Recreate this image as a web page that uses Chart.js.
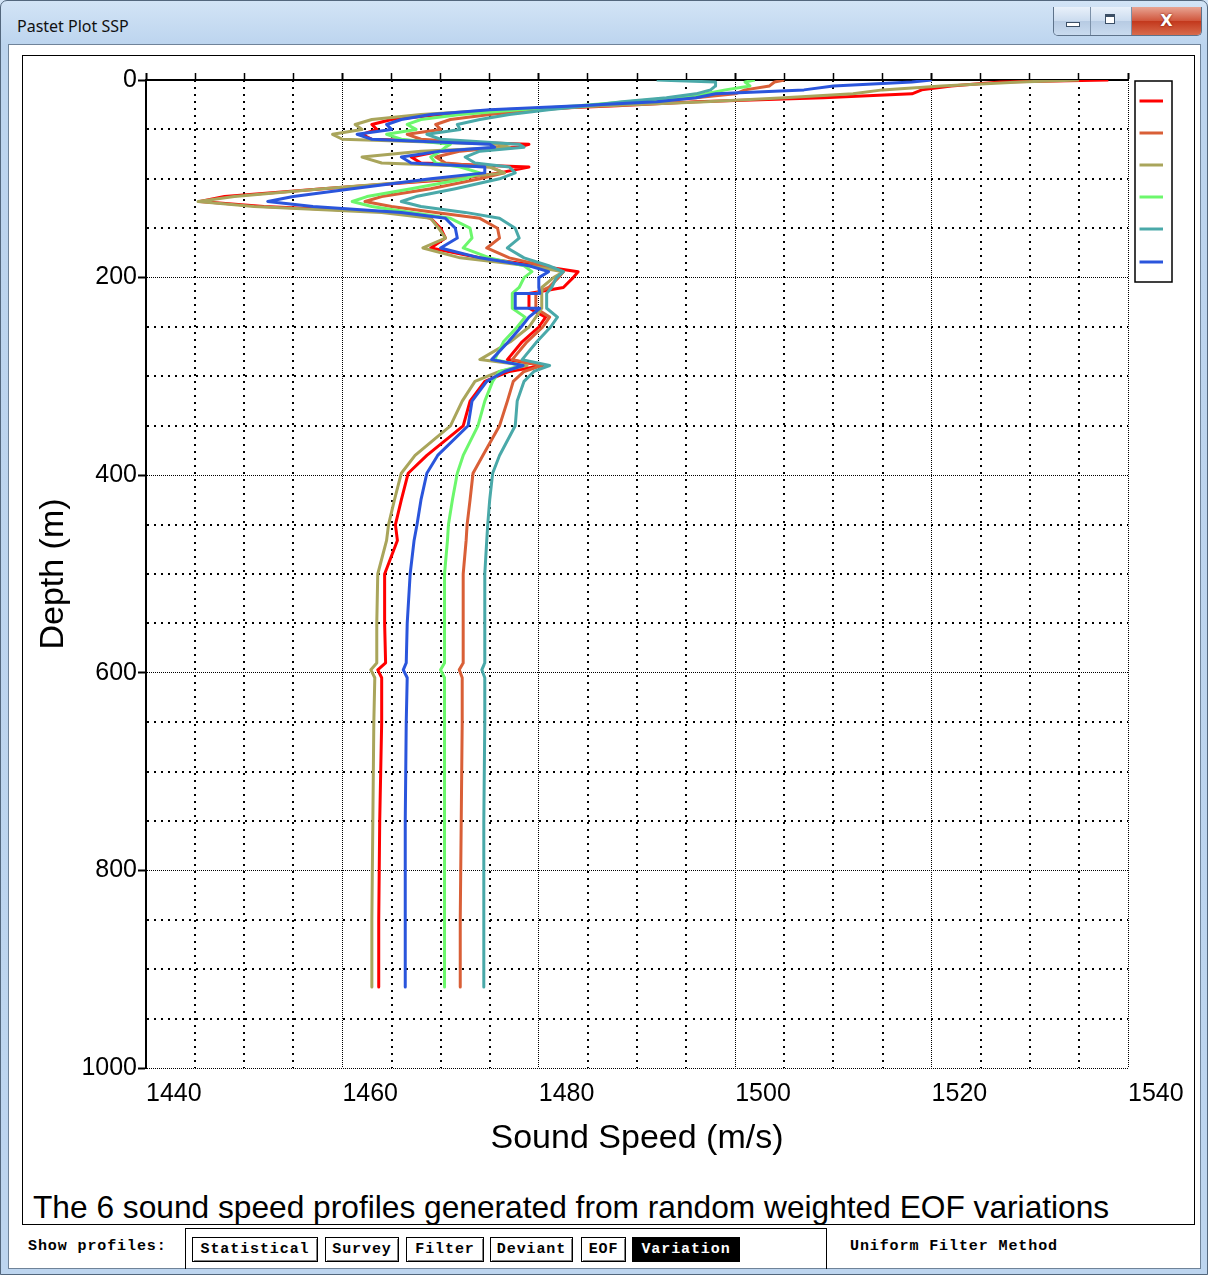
<!DOCTYPE html>
<html>
<head>
<meta charset="utf-8">
<title>Pastet Plot SSP</title>
<script src="https://cdn.jsdelivr.net/npm/chart.js@4.4.1/dist/chart.umd.min.js"></script>
<style>
  body { margin: 0; width: 1208px; height: 1275px; overflow: hidden; position: relative;
         background: linear-gradient(#d3e4f6, #bcd4ee 46px, #bdd5ef); font-family: "Liberation Sans", Arial, sans-serif; }
  #edge { position: absolute; left: 0; top: 0; width: 1206px; height: 1273px; border: 1px solid #53677d; border-radius: 7px 7px 0 0; }
  #wtitle { position: absolute; left: 17px; top: 15px; font: 16px "Noto Sans", "Open Sans", sans-serif; color: #111; }
  #btns { position: absolute; left: 1053px; top: 7px; width: 147px; height: 28px; border: 1px solid #5d728a; border-top: none;
          border-radius: 0 0 5px 5px; overflow: hidden; display: flex; }
  #btns div { height: 28px; border-right: 1px solid #7b90a8; background: linear-gradient(#e9f1fa, #cbdcef 50%, #b7cbe3 51%, #c9dbef); position: relative; }
  #btns .cls { background: linear-gradient(#e8a493, #d0553b 50%, #c3381c 51%, #d86b4c); border-right: none; color: #fff;
               font: bold 16px "DejaVu Sans", sans-serif; text-align: center; line-height: 27px; text-shadow: 0 0 2px #600; }
  #client { position: absolute; left: 8px; top: 44px; width: 1191px; height: 1223px; background: #fff; border: 1px solid #6f8399; }
  #panel { position: absolute; left: 22px; top: 55px; width: 1171px; height: 1168px; border: 1.5px solid #000; }
  #caption { position: absolute; left: 33px; top: 1188px; font-size: 31.7px; line-height: 38px; color: #000; white-space: nowrap; }
  .mono { font-family: "Liberation Mono", "DejaVu Sans Mono", monospace; font-weight: bold; font-size: 15px; letter-spacing: 0.9px; color: #000; }
  #show { position: absolute; left: 28px; top: 1238px; }
  #bar { position: absolute; left: 185px; top: 1228px; width: 640px; height: 40px; border: 1px solid #000; border-bottom: none; }
  .b { position: absolute; top: 8px; height: 23px; line-height: 23px; border: 1px solid #000; box-shadow: inset 1px 1px 0 #fff, inset -1px -1px 0 #808080;
       text-align: center; background: #fff; }
  .b.on { background: #000; color: #fff; box-shadow: none; }
  #method { position: absolute; left: 850px; top: 1238px; }
  #plot { position: absolute; left: 0; top: 0; }
</style>
</head>
<body>
<div id="edge"></div>
<div id="wtitle">Pastet Plot SSP</div>
<div id="btns">
  <div style="width:36px"><span style="position:absolute;left:12px;top:15px;width:12px;height:3px;background:#fff;border:1px solid #3b4f66"></span></div>
  <div style="width:40px"><span style="position:absolute;left:14px;top:7px;width:8px;height:8px;border:1px solid #3b4f66;box-shadow:inset 0 2px 0 #3b4f66;background:#fff"></span></div>
  <div class="cls" style="width:69px">X</div>
</div>
<div id="client"></div>
<div id="panel"></div>
<div id="caption">The 6 sound speed profiles generated from random weighted EOF variations</div>
<div id="show" class="mono">Show profiles:</div>
<div id="bar" class="mono">
  <div class="b" style="left:6px;width:124px">Statistical</div>
  <div class="b" style="left:139px;width:72px">Survey</div>
  <div class="b" style="left:220px;width:76px">Filter</div>
  <div class="b" style="left:304px;width:81px">Deviant</div>
  <div class="b" style="left:395px;width:43px">EOF</div>
  <div class="b on" style="left:446px;width:106px">Variation</div>
</div>
<div id="method" class="mono">Uniform Filter Method</div>
<canvas id="plot" width="1208" height="1275"></canvas>

<script>
// depth (m) shared by all six profiles; 216 and 231 are repeated for the step box
const depths = [0, 2, 6, 10, 14, 18, 22, 26, 30, 35,
  40, 45, 50, 55, 60, 65, 68, 72, 78, 84,
  88, 94, 100, 110, 118, 123, 128, 134, 140, 150,
  160, 170, 180, 188, 194, 200, 210, 216, 216, 231,
  231, 240, 250, 265, 283, 289, 295, 305, 325, 350,
  380, 398, 425, 450, 466, 500, 550, 590, 597, 605,
  650, 750, 850, 918];

// sound speed (m/s) of each profile at those depths
const redSpeed = [1538, 1527, 1522, 1519, 1518, 1509, 1496, 1488, 1478, 1470,
  1465, 1463, 1463.5, 1462, 1463, 1479, 1478, 1470, 1467, 1468,
  1479, 1476, 1472, 1458, 1448, 1445.5, 1452, 1466, 1469, 1470,
  1470.5, 1469, 1474, 1480, 1484, 1483.5, 1482.5, 1479, 1479, 1479,
  1479, 1480.7, 1480, 1478.3, 1476.8, 1480.4, 1477, 1474.5, 1473, 1472.3,
  1468.6, 1466.7, 1466, 1465.4, 1465.6, 1464.3, 1464.3, 1464.4, 1463.6, 1464,
  1464, 1463.8, 1463.7, 1463.7];
const orangeSpeed = [1505, 1504, 1503.5, 1501, 1500, 1496, 1491, 1486, 1480, 1475,
  1471, 1469.5, 1470, 1466.6, 1468, 1476, 1476, 1472, 1469.5, 1470.5,
  1475, 1476.5, 1474, 1469, 1464, 1462.3, 1465, 1469.5, 1474, 1475.8,
  1476, 1474.7, 1477, 1480.5, 1482.5, 1482, 1481, 1479.7, 1479.7, 1479.7,
  1479.7, 1481.1, 1480.4, 1478.8, 1477.3, 1480.3, 1478.5, 1477.4, 1476.8, 1476,
  1474.3, 1473.3, 1473, 1472.7, 1472.6, 1472.3, 1472.3, 1472.3, 1471.9, 1472.2,
  1472.2, 1472.1, 1472, 1472];
const oliveSpeed = [1535, 1529, 1521, 1515, 1512, 1505, 1497, 1487, 1476, 1468,
  1463, 1461.3, 1462, 1459, 1460, 1476, 1477, 1468, 1462, 1464,
  1475, 1476.5, 1471, 1458, 1449, 1445.3, 1451, 1464, 1469, 1469.8,
  1470.5, 1468.2, 1472, 1479, 1482.5, 1481.5, 1480.3, 1480.3, 1480.3, 1480.3,
  1480.3, 1479.7, 1479, 1477.1, 1474, 1478.8, 1476, 1473.5, 1472.2, 1471,
  1467.4, 1466, 1465.3, 1464.7, 1464.5, 1463.6, 1463.5, 1463.5, 1462.9, 1463.3,
  1463.2, 1463.1, 1463, 1463];
const greenSpeed = [1502, 1501, 1501.5, 1499, 1497, 1494, 1489, 1484, 1478, 1472,
  1468, 1466.6, 1467.5, 1464.5, 1466, 1471, 1470.5, 1470, 1469, 1469.5,
  1472, 1474, 1472.5, 1467, 1462.5, 1461, 1463, 1467, 1471, 1473,
  1473.2, 1472.3, 1475, 1478.5, 1479.3, 1478.5, 1478, 1477.3, 1477.3, 1477.3,
  1477.3, 1478.6, 1477.8, 1476.4, 1475.5, 1478.3, 1476, 1475.3, 1474.5, 1473.8,
  1472.3, 1471.7, 1471.2, 1470.8, 1470.7, 1470.4, 1470.4, 1470.4, 1470, 1470.4,
  1470.4, 1470.4, 1470.4, 1470.4];
const tealSpeed = [1492, 1498, 1498, 1497.5, 1496, 1493, 1488.5, 1485, 1481, 1477,
  1474, 1471.7, 1472, 1468.6, 1470, 1478, 1478.5, 1474, 1472.5, 1473.5,
  1477, 1477.6, 1476, 1471.5, 1467.5, 1466, 1468, 1472.5, 1476, 1477.6,
  1478, 1476.8, 1478.5, 1481, 1482.5, 1481.8, 1481.3, 1480.8, 1480.8, 1480.8,
  1480.8, 1481.9, 1481.2, 1479.8, 1478.3, 1481.1, 1479.5, 1478.5, 1477.8, 1477.6,
  1476, 1475.3, 1475, 1474.8, 1474.7, 1474.5, 1474.5, 1474.5, 1474.2, 1474.5,
  1474.5, 1474.4, 1474.4, 1474.4];
const blueSpeed = [1520, 1518, 1510, 1507, 1498, 1496, 1492, 1484, 1475, 1469,
  1466, 1464.5, 1465, 1461.5, 1463, 1475, 1475.5, 1470, 1466, 1467,
  1474.5, 1474.5, 1469, 1461, 1455, 1452.4, 1457, 1466, 1470.5, 1471.5,
  1471.7, 1470, 1474, 1479, 1481, 1480, 1480, 1480.1, 1477.6, 1477.6,
  1480.1, 1479, 1478.2, 1476.9, 1475.2, 1478.4, 1476.5, 1474.7, 1473.2, 1472.8,
  1469.7, 1468.6, 1468, 1467.6, 1467.3, 1466.9, 1466.6, 1466.5, 1466.2, 1466.6,
  1466.5, 1466.4, 1466.4, 1466.4];

const profiles = [redSpeed, orangeSpeed, oliveSpeed, greenSpeed, tealSpeed, blueSpeed];
const profileColors = ['#ff0000', '#d95f37', '#a9a55b', '#6cf76c', '#4aa9a9', '#2a55dc'];

const speedMin = 1440, speedMax = 1540, speedStep = 5, speedLabelStep = 20;
const depthMin = 0, depthMax = 1000, depthStep = 50, depthLabelStep = 200;

const isMajor = (ctx, every) => ctx.tick && Math.round(ctx.tick.value) % every === 0;
const axisFont = { family: '"Liberation Sans", Arial, sans-serif', size: 25 };
const titleFont = { family: '"Liberation Sans", Arial, sans-serif', size: 34 };

// small legend with just the coloured line samples, in a framed box
const legendBox = {
  id: 'legendBox',
  afterDraw(chart) {
    const { ctx, chartArea } = chart;
    const x0 = chartArea.right + 7, y0 = chartArea.top + 1, w = 37, h = 201;
    ctx.save();
    ctx.strokeStyle = '#000';
    ctx.lineWidth = 1.5;
    ctx.strokeRect(x0, y0, w, h);
    chart.data.datasets.forEach((ds, i) => {
      const y = Math.round(y0 + 20 + i * 32.1);
      ctx.strokeStyle = ds.borderColor;
      ctx.lineWidth = 3;
      ctx.beginPath();
      ctx.moveTo(x0 + 4.5, y);
      ctx.lineTo(x0 + 28, y);
      ctx.stroke();
    });
    ctx.restore();
  }
};

new Chart(document.getElementById('plot'), {
  type: 'scatter',
  data: {
    datasets: profiles.map((speeds, i) => ({
      label: 'Profile ' + (i + 1),
      data: depths.map((d, j) => ({ x: speeds[j], y: d })),
      showLine: true,
      borderColor: profileColors[i],
      backgroundColor: profileColors[i],
      borderWidth: 3,
      borderJoinStyle: 'round',
      pointRadius: 0,
      tension: 0,
      fill: false,
      order: profiles.length - 1 - i
    }))
  },
  options: {
    responsive: false,
    animation: false,
    events: [],
    layout: { padding: { left: 30, right: 80, top: 73, bottom: 107 } },
    plugins: { legend: { display: false }, tooltip: { enabled: false } },
    scales: {
      x: {
        type: 'linear', position: 'bottom', min: speedMin, max: speedMax,
        ticks: {
          stepSize: speedStep, autoSkip: false, maxRotation: 0, align: 'start', padding: 11,
          color: '#000', font: axisFont,
          callback: v => (Math.round(v) % speedLabelStep === 0 ? String(v) : '')
        },
        grid: {
          drawTicks: false, color: '#000',
          lineWidth: ctx => (isMajor(ctx, speedLabelStep) ? 1 : 2)
        },
        border: { display: false, dash: ctx => (isMajor(ctx, speedLabelStep) ? [1, 1] : [2, 5]) },
        title: { display: true, text: 'Sound Speed (m/s)', color: '#000', font: titleFont, padding: { top: 0, bottom: 9 } },
        afterFit: s => { s.height = 100; s.paddingLeft = 0; s.paddingRight = 0; }
      },
      xTop: {
        type: 'linear', position: 'top', min: speedMin, max: speedMax,
        ticks: { display: false, stepSize: speedStep, autoSkip: false },
        grid: {
          drawOnChartArea: false, drawTicks: true, tickLength: 7, tickColor: '#000',
          tickWidth: ctx => (isMajor(ctx, speedLabelStep) ? 2 : 1.5)
        },
        border: { display: true, color: '#000', width: 2 },
        afterFit: s => { s.height = 7; s.paddingLeft = 0; s.paddingRight = 0; }
      },
      y: {
        type: 'linear', position: 'left', reverse: true, min: depthMin, max: depthMax,
        ticks: {
          stepSize: depthStep, autoSkip: false, padding: 1, color: '#000', font: axisFont,
          callback: v => (Math.round(v) % depthLabelStep === 0 ? String(v) : '')
        },
        grid: {
          color: '#000', tickLength: 8,
          lineWidth: ctx => (isMajor(ctx, depthLabelStep) ? 1 : 2),
          tickColor: ctx => (isMajor(ctx, depthLabelStep) ? '#000' : 'rgba(0,0,0,0)'),
          tickWidth: 2
        },
        border: { display: true, color: '#000', width: 2, dash: ctx => (isMajor(ctx, depthLabelStep) ? [1, 1] : [2, 5]) },
        title: { display: true, text: 'Depth (m)', color: '#000', font: titleFont, padding: { top: 3, bottom: 0 } },
        afterFit: s => { s.width = 116; s.paddingTop = 0; s.paddingBottom = 0; }
      }
    }
  },
  plugins: [legendBox]
});
</script>
</body>
</html>
